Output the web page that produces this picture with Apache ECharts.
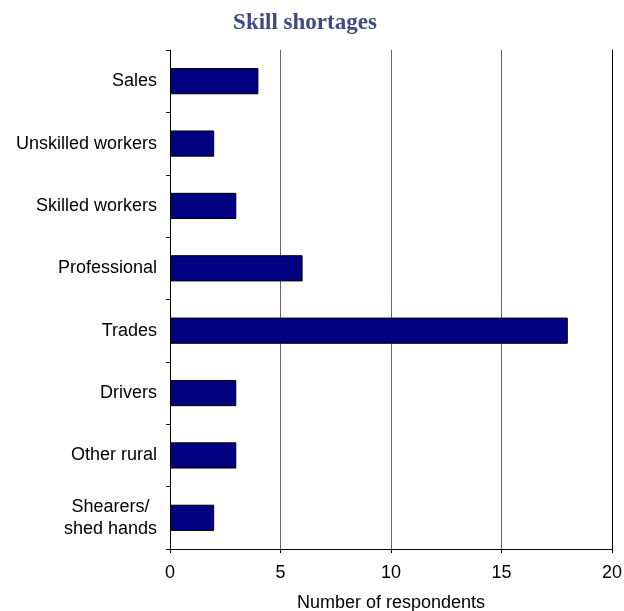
<!DOCTYPE html>
<html>
<head>
<meta charset="utf-8">
<script src="https://cdn.jsdelivr.net/npm/echarts@6/dist/echarts.min.js"></script>
<style>
  html, body { margin: 0; padding: 0; background: #fff; }
  #chart { width: 624px; height: 611px; }
</style>
</head>
<body>
<div id="chart"></div>
<script>
// Skill categories, listed bottom to top as the category axis draws them
const categories = [
  'Shearers/\nshed hands',
  'Other rural',
  'Drivers',
  'Trades',
  'Professional',
  'Skilled workers',
  'Unskilled workers',
  'Sales'
];
const respondents = [2, 3, 3, 18, 6, 3, 2, 4];
const xTicks = [0, 5, 10, 15, 20];

const labelFont = { fontFamily: 'Liberation Sans', fontSize: 18, color: '#000' };

const chart = echarts.init(document.getElementById('chart'), null, { renderer: 'canvas' });

chart.setOption({
  animation: false,
  backgroundColor: '#ffffff',
  title: {
    text: 'Skill shortages',
    left: 300,
    top: 7,
    textAlign: 'center',
    textStyle: {
      fontFamily: 'Liberation Serif',
      fontWeight: 'bold',
      fontSize: 23,
      color: '#3d4a86'
    }
  },
  grid: {
    left: 170, right: 12, top: 50, bottom: 62,
    containLabel: false,
    outerBoundsMode: 'none'
  },
  xAxis: {
    type: 'value',
    min: xTicks[0],
    max: xTicks[xTicks.length - 1],
    interval: 5,
    name: 'Number of respondents',
    nameLocation: 'middle',
    nameGap: 45,
    nameTextStyle: labelFont,
    axisLine: { show: true, lineStyle: { color: '#000', width: 1 } },
    axisTick: { show: true, length: 4, inside: false, lineStyle: { color: '#000' } },
    axisLabel: Object.assign({ margin: 15 }, labelFont),
    splitLine: { show: true, lineStyle: { color: '#666', width: 1 } }
  },
  yAxis: [
    {
      type: 'category',
      data: categories,
      axisLine: { show: true, lineStyle: { color: '#000', width: 1 } },
      axisTick: { show: true, length: 4, inside: false, lineStyle: { color: '#000' } },
      axisLabel: Object.assign({
        margin: 13,
        lineHeight: 22,
        align: 'right',
        // each line of a wrapped label is centred within its block
        formatter: (v) => v.split('\n').map((l) => '{c|' + l + '}').join('\n'),
        rich: {
          c: Object.assign({ align: 'center', lineHeight: 22 }, labelFont)
        }
      }, labelFont),
      splitLine: { show: false }
    },
    {
      type: 'category',
      data: categories,
      position: 'right',
      axisLine: { show: true, lineStyle: { color: '#000', width: 1 } },
      axisTick: { show: false },
      axisLabel: { show: false },
      splitLine: { show: false }
    }
  ],
  series: [
    {
      type: 'bar',
      data: respondents,
      barWidth: '42%',
      itemStyle: { color: '#000080', borderColor: '#000', borderWidth: 1 }
    }
  ]
});
</script>
</body>
</html>
